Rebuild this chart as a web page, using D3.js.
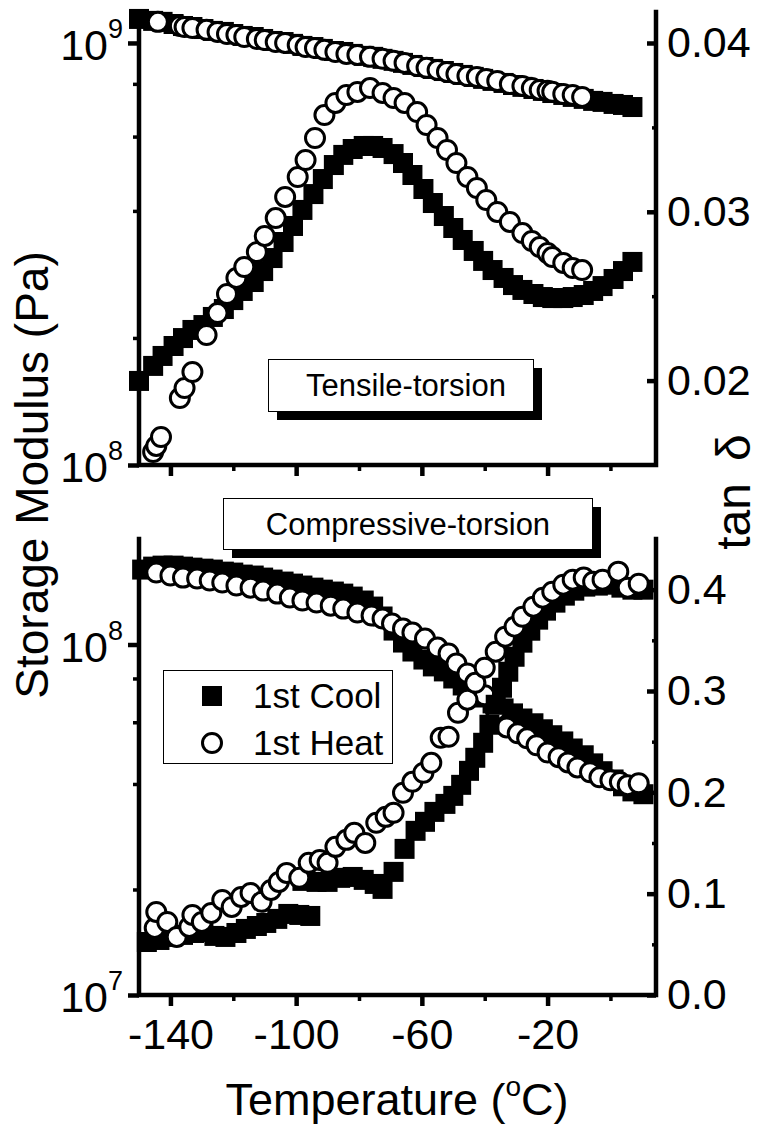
<!DOCTYPE html>
<html><head><meta charset="utf-8">
<script src="https://cdn.jsdelivr.net/npm/d3@7"></script>
<style>body{margin:0;background:#fff}svg{display:block}</style>
</head><body><svg id="c" width="760" height="1127"></svg>
<script>
// ---------------- DATA ----------------
// Top panel (Tensile-torsion)
const coolTempTop = [-150,-145.5,-142.5,-139,-136,-133,-129.5,-126.5,-123,-120,-117,-113.5,-110.5,-107.5,-104,-101,-98,-94.5,-91.5,-88,-85,-82,-78.5,-75.5,-72.5,-69,-66,-63,-59.5,-56.5,-53,-50,-47,-43.5,-40.5,-37.5,-34,-31,-28,-24.5,-21.5,-18.5,-15,-12,-8.5,-5.5,-2.5,1,4,7];
const coolModTop = [11.40e8,11.28e8,11.22e8,11.09e8,10.97e8,10.91e8,10.79e8,10.68e8,10.62e8,10.50e8,10.39e8,10.33e8,10.22e8,10.11e8,10.05e8,9.95e8,9.84e8,9.78e8,9.68e8,9.57e8,9.52e8,9.42e8,9.32e8,9.27e8,9.17e8,9.07e8,8.97e8,8.87e8,8.77e8,8.68e8,8.58e8,8.49e8,8.40e8,8.31e8,8.22e8,8.13e8,8.04e8,7.95e8,7.87e8,7.78e8,7.70e8,7.61e8,7.53e8,7.45e8,7.37e8,7.29e8,7.25e8,7.17e8,7.13e8,7.05e8];
const coolTanTop = [0.01998,0.02087,0.02146,0.02205,0.02252,0.02300,0.02329,0.02377,0.02424,0.02477,0.02531,0.02584,0.02649,0.02726,0.02821,0.02916,0.03011,0.03105,0.03194,0.03277,0.03337,0.03372,0.0339,0.0339,0.03378,0.03342,0.03289,0.03218,0.03135,0.03052,0.02975,0.02904,0.02833,0.02768,0.02709,0.02655,0.02608,0.02566,0.02537,0.02513,0.02495,0.02489,0.02489,0.02495,0.02507,0.02531,0.0256,0.02602,0.02649,0.02703];
const heatTempTop = [-145.5,-144.5,-143,-137,-135.5,-133,-128.5,-125,-122,-119,-116.5,-112.5,-110,-106.5,-103.5,-99.5,-97,-94,-91,-87.5,-84,-80.5,-76.5,-72.5,-69,-65.5,-61.5,-58.5,-55,-52,-49,-45.5,-42.5,-39.5,-36,-32,-28,-25,-22.5,-20,-18.5,-15,-12,-9];
const heatTanTop = [0.01577,0.01613,0.01666,0.01897,0.01956,0.02051,0.0227,0.0240,0.02513,0.02608,0.02673,0.02762,0.02857,0.02963,0.03088,0.03206,0.03307,0.03437,0.03573,0.03645,0.03692,0.0371,0.03733,0.03704,0.03674,0.03645,0.03591,0.03514,0.03437,0.03366,0.03289,0.03206,0.03141,0.0307,0.02999,0.0294,0.02874,0.02827,0.02791,0.02756,0.02732,0.02697,0.02667,0.02655];
const heatModTempTop = [-144,-137,-135.5,-133,-128.5,-125,-122,-119,-116.5,-112.5,-110,-106.5,-103.5,-99.5,-97,-94,-91,-87.5,-84,-80.5,-76.5,-72.5,-69,-65.5,-61.5,-58.5,-55,-52,-49,-45.5,-42.5,-39.5,-36,-32,-28,-25,-22.5,-20,-18.5,-15,-12,-9];
const heatModTop = [11.22e8,10.97e8,10.91e8,10.85e8,10.74e8,10.62e8,10.50e8,10.45e8,10.33e8,10.22e8,10.16e8,10.05e8,10.00e8,9.89e8,9.78e8,9.73e8,9.63e8,9.52e8,9.42e8,9.37e8,9.27e8,9.17e8,9.07e8,8.97e8,8.82e8,8.73e8,8.63e8,8.54e8,8.44e8,8.35e8,8.31e8,8.22e8,8.13e8,7.99e8,7.91e8,7.82e8,7.74e8,7.70e8,7.66e8,7.57e8,7.53e8,7.45e8];

// Bottom panel (Compressive-torsion)
const coolModTempBot = [-149,-145.5,-142.5,-139,-136,-133,-129.5,-126.5,-123,-120,-117,-113.5,-110.5,-107.5,-104,-101,-98,-94.5,-91.5,-88,-85,-82,-78.5,-75.5,-72.5,-69,-66,-63,-59.5,-56.5,-53,-50,-47,-43.5,-40.5,-37.5,-34,-31,-28,-24.5,-21.5,-18.5,-15,-12,-8.5,-5.5,-2.5,1,4,7,10.5];
const coolModBot = [16.36e7,16.68e7,16.79e7,16.79e7,16.68e7,16.57e7,16.46e7,16.36e7,16.14e7,16.04e7,15.83e7,15.73e7,15.52e7,15.32e7,15.12e7,14.92e7,14.73e7,14.53e7,14.34e7,14.16e7,13.97e7,13.70e7,13.35e7,12.83e7,12.02e7,10.96e7,10.13e7,9.55e7,9.06e7,8.66e7,8.38e7,8.00e7,7.64e7,7.35e7,7.06e7,6.79e7,6.57e7,6.36e7,6.15e7,5.96e7,5.73e7,5.51e7,5.29e7,5.05e7,4.83e7,4.58e7,4.35e7,4.12e7,3.94e7,3.81e7,3.74e7];
const heatModTempBot = [-144.5,-140,-136,-131.5,-127.5,-123.5,-119,-114.5,-110.5,-106,-102,-98,-93.5,-89,-85,-80.5,-76,-72.5,-69.5,-66,-63,-59,-55,-51.5,-49,-45.5,-43,-40,-36.5,-33,-29.5,-26.5,-23.5,-20,-16.5,-13.5,-10.5,-6.5,-3.5,0,3,5.5,9];
const heatModBot = [16.04e7,15.73e7,15.52e7,15.42e7,15.22e7,15.02e7,14.73e7,14.53e7,14.25e7,13.97e7,13.61e7,13.35e7,13.17e7,12.91e7,12.66e7,12.34e7,12.10e7,11.86e7,11.48e7,11.11e7,10.82e7,10.40e7,9.80e7,9.43e7,8.83e7,8.27e7,7.74e7,7.16e7,6.49e7,5.80e7,5.58e7,5.40e7,5.16e7,4.92e7,4.77e7,4.61e7,4.46e7,4.32e7,4.18e7,4.10e7,4.05e7,3.97e7,4.02e7];
const coolTanTempBot = [-147.5,-143.5,-139.5,-136,-132.5,-129.5,-126,-122.5,-119,-116,-112.5,-109.5,-106,-102.5,-99,-95.5,-98,-93.5,-90,-86,-82,-78.5,-75,-72.5,-69,-65.5,-62,-59,-56,-52.5,-50,-47.5,-45,-43,-40.5,-38.5,-36.5,-34.5,-32.5,-30.5,-28,-25.5,-23,-20.5,-17.5,-14.5,-11.5,-8,-4,0,3.5,7,10.5];
const coolTanBot = [0.0523,0.0543,0.0573,0.0593,0.0612,0.0622,0.0583,0.0573,0.0612,0.0652,0.0681,0.0711,0.0751,0.0800,0.0790,0.0780,0.1126,0.1116,0.1116,0.1156,0.1165,0.1136,0.1096,0.1047,0.1215,0.1442,0.1620,0.1709,0.1807,0.1886,0.1965,0.2074,0.2212,0.2341,0.2489,0.2667,0.2864,0.3032,0.3190,0.3338,0.3477,0.3595,0.3704,0.3793,0.3872,0.3941,0.3990,0.4030,0.4040,0.4049,0.4020,0.4000,0.4000];
const heatTanTempBot = [-145,-144.5,-141,-138,-134,-133,-130,-127,-123.5,-120.5,-117.5,-114.5,-111,-108,-105.5,-103,-99,-96,-92.5,-90,-87.5,-84,-81.5,-78,-74.5,-71.5,-69,-66,-63,-59.5,-57,-54,-51.5,-48.5,-45.5,-43,-40,-36.5,-33.5,-30.5,-28,-24.5,-21.5,-18.5,-15,-12,-8.5,-5.5,-2.5,2.5,5.5,9];
const heatTanBot = [0.0662,0.0820,0.0721,0.0573,0.0672,0.0790,0.0721,0.0810,0.0938,0.0869,0.0968,0.1007,0.0919,0.1037,0.1116,0.1205,0.1156,0.1304,0.1333,0.1304,0.1462,0.1531,0.1600,0.1501,0.1699,0.1758,0.1798,0.1995,0.2104,0.2193,0.2291,0.2538,0.2548,0.2785,0.2914,0.3081,0.3230,0.3388,0.3536,0.3635,0.3733,0.3832,0.3921,0.3980,0.4049,0.4099,0.4119,0.4079,0.4099,0.4178,0.4020,0.4059];

// Ticks & labels
const xMajorTicks = [-140,-100,-60,-20];
const xMinorTicks = [-120,-80,-40,0];
const topLeftMajor = [1e8,1e9], topLeftMinor = [2e8,4e8,6e8,8e8];
const topRightMajor = [0.02,0.03,0.04], topRightMinor = [0.025,0.035];
const botLeftMajor = [1e7,1e8], botLeftMinor = [2e7,4e7,6e7,8e7];
const botRightMajor = [0,0.1,0.2,0.3,0.4], botRightMinor = [0.05,0.15,0.25,0.35];
const legendLabels = ["1st Cool","1st Heat"];
const panelLabels = ["Tensile-torsion","Compressive-torsion"];

// ---------------- DRAW ----------------
const FONT = '"Liberation Sans", Arial, Helvetica, sans-serif';
const svg = d3.select("#c").attr("font-family", FONT);
const X0 = 139, X1 = 656;
const x = d3.scaleLinear().domain([-150, 14.5]).range([X0, X1]);

const P1 = {yT:12, yB:465};
const P2 = {yT:539, yB:995};
const yL1 = d3.scaleLog().domain([1e8, 1.184e9]).range([P1.yB, P1.yT]);
const yR1 = d3.scaleLinear().domain([0.015, 0.041836]).range([P1.yB, P1.yT]);
const yL2 = d3.scaleLog().domain([1e7, 2e8]).range([P2.yB, P2.yT]);
const yR2 = d3.scaleLinear().domain([0, 0.45]).range([P2.yB, P2.yT]);

const SW = 4.5;
function styleAxis(g, w){
  g.select(".domain").remove();
  g.selectAll(".tick line").attr("stroke","#000").attr("stroke-width",w);
  g.selectAll(".tick text").attr("fill","#000").attr("font-size",43).attr("font-family",FONT);
  g.attr("font-family",FONT);
}

function drawPanel(P, yL, yR, lMaj, lMin, rMaj, rMin, rFmt, xLabels){
  const ax = svg.append("g");
  ax.append("g").attr("transform",`translate(0,${P.yB})`)
    .call(d3.axisBottom(x).tickValues(xMajorTicks).tickSize(11).tickSizeOuter(0).tickPadding(12)
      .tickFormat(xLabels ? (d=>String(d)) : (()=>"")))
    .call(g=>styleAxis(g,SW));
  ax.append("g").attr("transform",`translate(0,${P.yB})`)
    .call(d3.axisBottom(x).tickValues(xMinorTicks).tickSize(6).tickSizeOuter(0).tickFormat(()=>""))
    .call(g=>styleAxis(g,3.5));
  ax.append("g").attr("transform",`translate(${X0},0)`)
    .call(d3.axisLeft(yL).tickValues(lMaj).tickSize(11).tickSizeOuter(0).tickFormat(()=>""))
    .call(g=>styleAxis(g,SW));
  ax.append("g").attr("transform",`translate(${X0},0)`)
    .call(d3.axisLeft(yL).tickValues(lMin).tickSize(6).tickSizeOuter(0).tickFormat(()=>""))
    .call(g=>styleAxis(g,3.5));
  ax.append("g").attr("transform",`translate(${X1},0)`)
    .call(d3.axisRight(yR).tickValues(rMaj).tickSize(-9).tickSizeOuter(0).tickPadding(11).tickFormat(d3.format(rFmt)))
    .call(g=>styleAxis(g,SW));
  ax.append("g").attr("transform",`translate(${X1},0)`)
    .call(d3.axisRight(yR).tickValues(rMin).tickSize(-4).tickSizeOuter(0).tickFormat(()=>""))
    .call(g=>styleAxis(g,3.5));
  ax.append("path")
    .attr("d", `M${X0},${P.yT}V${P.yB}H${X1}V${P.yT}`)
    .attr("fill","none").attr("stroke","#000").attr("stroke-width",SW)
    .attr("stroke-linecap","square").attr("stroke-linejoin","miter");
  lMaj.forEach(v=>{
    const e = Math.round(Math.log10(v));
    const t = ax.append("text").attr("x", X0-16).attr("y", yL(v)+17)
      .attr("text-anchor","end").attr("font-size",43).attr("fill","#000");
    t.append("tspan").text("10");
    t.append("tspan").attr("font-size",27).attr("dy",-22).text(e);
  });
}

drawPanel(P1, yL1, yR1, topLeftMajor, topLeftMinor, topRightMajor, topRightMinor, ".2f", false);
drawPanel(P2, yL2, yR2, botLeftMajor, botLeftMinor, botRightMajor, botRightMinor, ".1f", true);

const SQ = 20, R = 9.5, CSW = 3;
function squares(xs, ys, yScale){
  svg.append("g").selectAll("rect").data(xs.map((t,i)=>[t,ys[i]])).join("rect")
    .attr("x", d=>x(d[0])-SQ/2).attr("y", d=>yScale(d[1])-SQ/2)
    .attr("width",SQ).attr("height",SQ).attr("fill","#000");
}
function circles(xs, ys, yScale){
  svg.append("g").selectAll("circle").data(xs.map((t,i)=>[t,ys[i]])).join("circle")
    .attr("cx", d=>x(d[0])).attr("cy", d=>yScale(d[1])).attr("r",R)
    .attr("fill","#fff").attr("stroke","#000").attr("stroke-width",CSW);
}
squares(coolTempTop, coolModTop, yL1);
circles(heatModTempTop, heatModTop, yL1);
squares(coolTempTop, coolTanTop, yR1);
circles(heatTempTop, heatTanTop, yR1);

squares(coolModTempBot, coolModBot, yL2);
circles(heatModTempBot, heatModBot, yL2);
squares(coolTanTempBot, coolTanBot, yR2);
circles(heatTanTempBot, heatTanBot, yR2);

function shadowBox(x0,y0,w,h,label,tx,ty){
  svg.append("rect").attr("x",x0+9).attr("y",y0+9).attr("width",w).attr("height",h).attr("fill","#000");
  svg.append("rect").attr("x",x0+0.5).attr("y",y0+0.5).attr("width",w).attr("height",h)
    .attr("fill","#fff").attr("stroke","#000").attr("stroke-width",1);
  svg.append("text").attr("x",tx).attr("y",ty).attr("text-anchor","middle")
    .attr("font-size",31).attr("fill","#000").text(label);
}
shadowBox(268,359,265,52,panelLabels[0],406,396);
shadowBox(223,498,369,51,panelLabels[1],408,535);

const lg = svg.append("g");
lg.append("rect").attr("x",163.5).attr("y",670.5).attr("width",229).attr("height",93)
  .attr("fill","#fff").attr("stroke","#000").attr("stroke-width",1);
lg.append("rect").attr("x",212-SQ/2).attr("y",696-SQ/2).attr("width",SQ).attr("height",SQ).attr("fill","#000");
lg.append("circle").attr("cx",212).attr("cy",743).attr("r",R).attr("fill","#fff").attr("stroke","#000").attr("stroke-width",CSW);
lg.append("text").attr("x",253).attr("y",708).attr("font-size",35).text(legendLabels[0]);
lg.append("text").attr("x",253).attr("y",755).attr("font-size",35).text(legendLabels[1]);

svg.append("text").attr("transform","translate(48,475) rotate(-90)").attr("text-anchor","middle")
  .attr("font-size",46).text("Storage Modulus (Pa)");
const tt = svg.append("text").attr("transform","translate(750,492) rotate(-90)").attr("text-anchor","middle")
  .attr("font-size",48);
tt.append("tspan").text("tan");
tt.append("tspan").attr("dx",22).text("δ");
const xt = svg.append("text").attr("x",397).attr("y",1115).attr("text-anchor","middle").attr("font-size",45);
xt.append("tspan").text("Temperature (");
xt.append("tspan").attr("font-size",28).attr("dy",-19).text("o");
xt.append("tspan").attr("dy",19).text("C)");
</script>
</body></html>
